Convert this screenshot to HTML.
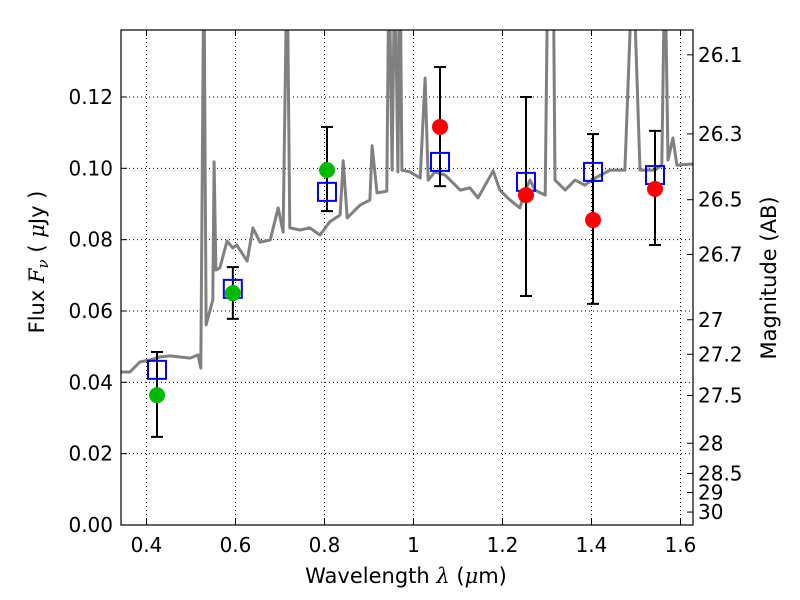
<!DOCTYPE html>
<html><head><meta charset="utf-8"><style>
html,body{margin:0;padding:0;background:#fff;}
svg{display:block;font-family:"DejaVu Sans","Liberation Sans",sans-serif;}
</style></head><body>
<svg id="chart" width="800" height="600" viewBox="0 0 800 600">
<defs><clipPath id="plotclip"><rect x="121" y="30" width="572" height="495"/></clipPath></defs>
<rect x="0" y="0" width="800" height="600" fill="#fff"/>
<g id="grid"></g>
<g id="spec" clip-path="url(#plotclip)"></g>
<g id="marks" clip-path="url(#plotclip)"></g>
<rect x="121" y="30" width="572" height="495" fill="none" stroke="#000" stroke-width="1.2"/>
<g id="axes"></g>
<text x="406" y="583" font-size="21" text-anchor="middle">Wavelength  <tspan font-family="DejaVu Serif" font-style="italic">λ</tspan> (<tspan font-family="DejaVu Serif" font-style="italic">μ</tspan>m)</text>
<text transform="translate(44,262) rotate(-90)" font-size="21" text-anchor="middle">Flux  <tspan font-family="DejaVu Serif" font-style="italic">F<tspan font-size="15" dy="4">ν</tspan></tspan><tspan dy="-4">  (</tspan> <tspan font-family="DejaVu Serif" font-style="italic">μ</tspan>Jy )</text>
<text transform="translate(776,278) rotate(-90)" font-size="21" text-anchor="middle">Magnitude (AB)</text>
</svg>
<script>
const specWl=[0.343,0.363,0.385,0.408,0.430,0.453,0.475,0.498,0.516,0.522,0.529,0.534,0.543,0.549,0.552,0.556,0.565,0.581,0.594,0.603,0.626,0.639,0.655,0.678,0.696,0.707,0.716,0.722,0.745,0.767,0.790,0.812,0.835,0.842,0.851,0.880,0.902,0.907,0.918,0.940,0.945,0.952,0.958,0.965,0.970,0.974,0.992,1.015,1.026,1.033,1.048,1.071,1.105,1.127,1.145,1.179,1.194,1.217,1.239,1.251,1.262,1.273,1.296,1.302,1.314,1.318,1.341,1.363,1.385,1.408,1.442,1.475,1.493,1.509,1.543,1.558,1.565,1.572,1.583,1.592,1.628];
const specFlux=[0.0429,0.0429,0.0457,0.0463,0.0471,0.0474,0.0471,0.0468,0.0477,0.0440,0.16,0.0561,0.0603,0.0631,0.1018,0.0715,0.0721,0.0796,0.0777,0.0785,0.0740,0.0833,0.0793,0.0799,0.0889,0.0821,0.16,0.0833,0.0827,0.0833,0.0813,0.0850,0.0869,0.1021,0.0861,0.0897,0.0911,0.1063,0.0931,0.0936,0.16,0.0995,0.16,0.099,0.16,0.0995,0.099,0.0973,0.1253,0.0967,0.099,0.0981,0.0939,0.0945,0.0917,0.0993,0.0939,0.0911,0.0889,0.0939,0.0967,0.0939,0.0925,0.16,0.16,0.0967,0.0939,0.0967,0.0953,0.0973,0.0995,0.0995,0.16,0.0995,0.0995,0.101,0.16,0.1023,0.1085,0.1009,0.1012];
const obsWl=[0.4236,0.594,0.8056,1.0596,1.2528,1.4034,1.5427];
const obsFlux=[0.0364,0.0650,0.0995,0.1116,0.0925,0.0855,0.0942];
const obsErrLo=[0.0247,0.0578,0.0880,0.0950,0.0642,0.0620,0.0785];
const obsErrHi=[0.0485,0.0723,0.1116,0.1284,0.1200,0.1096,0.1105];
const obsColor=['#00bb00','#00bb00','#00bb00','#ff0000','#ff0000','#ff0000','#ff0000'];
const modelFlux=[0.0435,0.0662,0.0934,0.1018,0.0962,0.0990,0.0981];
const xTicks=[0.4,0.6,0.8,1.0,1.2,1.4,1.6];
const xTickLabels=['0.4','0.6','0.8','1','1.2','1.4','1.6'];
const yTicks=[0,0.02,0.04,0.06,0.08,0.10,0.12];
const yTickLabels=['0.00','0.02','0.04','0.06','0.08','0.10','0.12'];
const magTicks=[26.1,26.3,26.5,26.7,27,27.2,27.5,28,28.5,29,30];

const NS='http://www.w3.org/2000/svg';
const X0=121,X1=693,Y0=525,Y1=30,XMIN=0.3427,XMAX=1.6281,YMIN=0,YMAX=0.13878;
const sx=v=>X0+(v-XMIN)/(XMAX-XMIN)*(X1-X0);
const sy=v=>Y0-(v-YMIN)/(YMAX-YMIN)*(Y0-Y1);
function el(tag,attrs,parent){const e=document.createElementNS(NS,tag);for(const k in attrs)e.setAttribute(k,attrs[k]);parent.appendChild(e);return e;}
const grid=document.getElementById('grid'),axes=document.getElementById('axes'),spec=document.getElementById('spec'),marks=document.getElementById('marks');

xTicks.forEach((t,i)=>{
  const x=sx(t);
  const g=el('line',{x1:x,x2:x,y1:Y1,y2:Y0,stroke:'#000','stroke-width':1,'stroke-dasharray':'1,3'},grid);
  
  
  el('line',{x1:x,x2:x,y1:Y0,y2:Y0-6,stroke:'#000'},axes);
  el('line',{x1:x,x2:x,y1:Y1,y2:Y1+6,stroke:'#000'},axes);
  const tx=el('text',{x:x,y:Y0+27,'font-size':20,'text-anchor':'middle'},axes);
  tx.textContent=xTickLabels[i];
  
  
});
yTicks.forEach((t,i)=>{
  const y=sy(t);
  const g=el('line',{x1:X0,x2:X1,y1:y,y2:y,stroke:'#000','stroke-width':1,'stroke-dasharray':'1,3'},grid);
  
  
  el('line',{x1:X0,x2:X0+6,y1:y,y2:y,stroke:'#000'},axes);
  const tx=el('text',{x:X0-8,y:y+7,'font-size':20,'text-anchor':'end'},axes);
  tx.textContent=yTickLabels[i];
  
  
});
magTicks.forEach(m=>{
  const y=sy(Math.pow(10,-(m-23.9)/2.5));
  el('line',{x1:X1,x2:X1-6,y1:y,y2:y,stroke:'#000'},axes);
  const tx=el('text',{x:X1+5,y:y+7,'font-size':20},axes);
  tx.textContent=String(m);
  
  
});

const pts=specWl.map((w,i)=>sx(w).toFixed(1)+','+sy(specFlux[i]).toFixed(1)).join(' ');
const pl=el('polyline',{points:pts,fill:'none',stroke:'#808080','stroke-width':3,'stroke-linejoin':'round'},spec);



obsWl.forEach((w,i)=>{
  const x=sx(w);
  const eb=el('line',{x1:x,x2:x,y1:sy(obsErrLo[i]),y2:sy(obsErrHi[i]),stroke:'#000','stroke-width':2},marks);
  
  
  [obsErrLo[i],obsErrHi[i]].forEach(v=>el('line',{x1:x-6,x2:x+6,y1:sy(v),y2:sy(v),stroke:'#000','stroke-width':2},marks));
  const sq=el('rect',{x:x-9,y:sy(modelFlux[i])-9,width:18,height:18,fill:'none',stroke:'#0000ff','stroke-width':2},marks);
  
  
  const c=el('circle',{cx:x,cy:sy(obsFlux[i]),r:8,fill:obsColor[i]},marks);
  
  
});
</script>
</body></html>
